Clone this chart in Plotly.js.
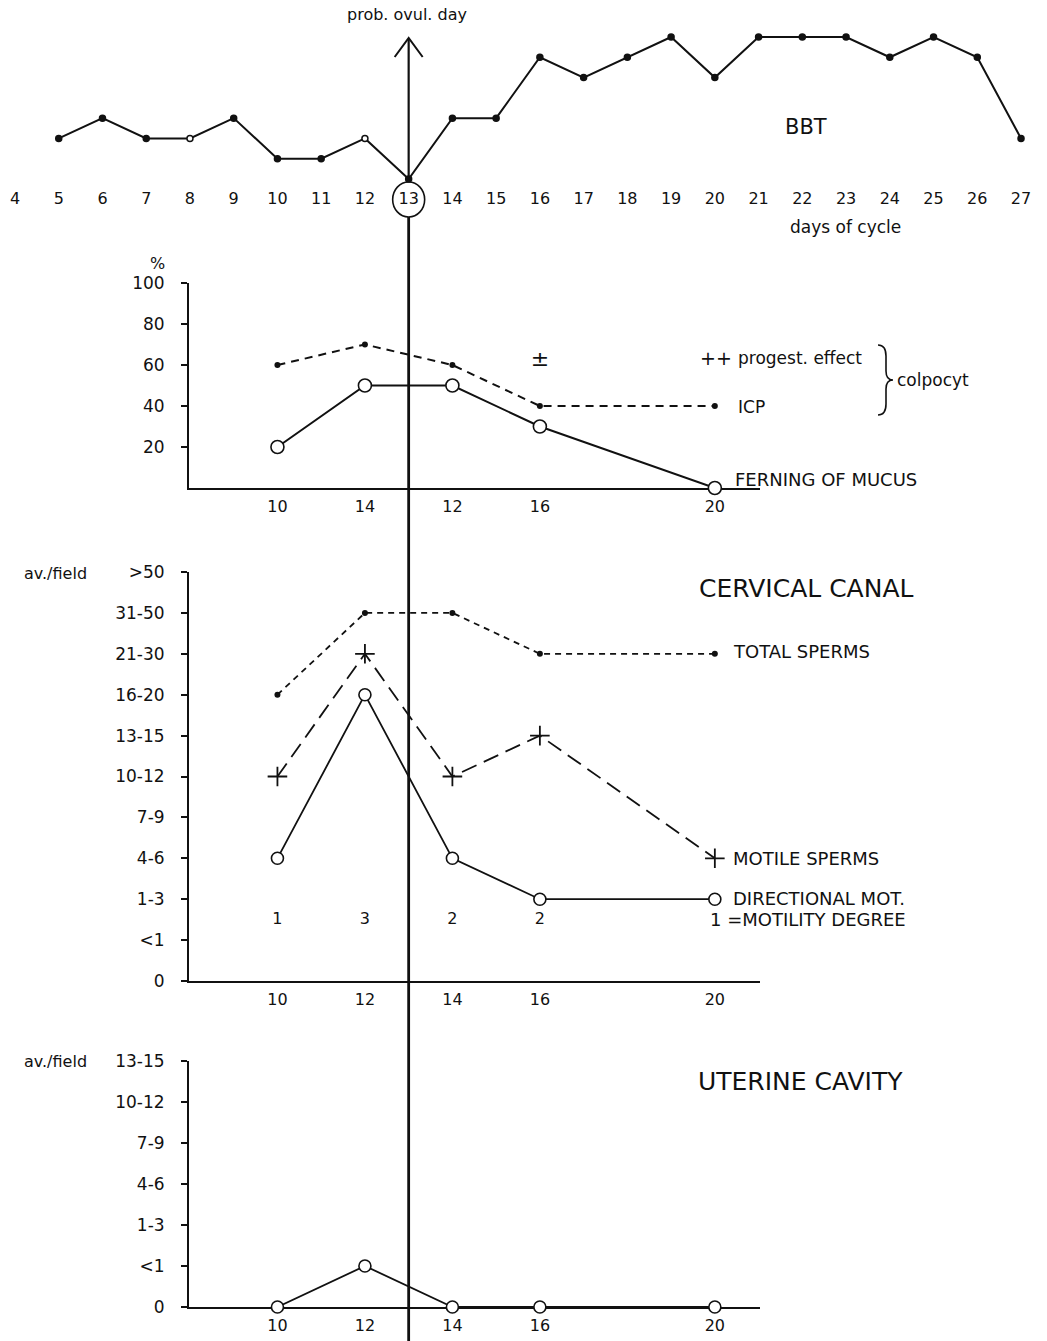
<!DOCTYPE html>
<html>
<head>
<meta charset="utf-8">
<script src="https://cdn.plot.ly/plotly-3.0.1.min.js"></script>
<style>html,body{margin:0;padding:0;background:#fff;}#chart{width:1047px;height:1341px;}</style>
</head>
<body>
<div id="chart"></div>
<script>
// ---------- data ----------
const bbtDays = [5,6,7,8,9,10,11,12,13,14,15,16,17,18,19,20,21,22,23,24,25,26,27];
const bbtTemp = [36.5,36.6,36.5,36.5,36.6,36.4,36.4,36.5,36.3,36.6,36.6,36.9,36.8,36.9,37.0,36.8,37.0,37.0,37.0,36.9,37.0,36.9,36.5];
const bbtOpen = [8,12];
const cycleTicks = [4,5,6,7,8,9,10,11,12,13,14,15,16,17,18,19,20,21,22,23,24,25,26,27];

const sampleDays = [10,12,14,16,20];
const sampleDayLabels = ['10','14','12','16','20'];   // as printed in the ferning panel
const icpPct = [60,70,60,40,40];
const ferningPct = [20,50,50,30,0];
const progestDay = [16];
const progestLevel = [62];
const pctTicks = [20,40,60,80,100];

const spermCats = ['0','&lt;1','1-3','4-6','7-9','10-12','13-15','16-20','21-30','31-50','&gt;50'];
const totalSperms = [7,9,9,8,8];
const motileSperms = [5,8,5,6,3];
const directionalMot = [3,7,3,2,2];
const motilityDays = [10,12,14,16];
const motilityDegree = ['1','3','2','2'];

const uterineCats = ['0','&lt;1','1-3','4-6','7-9','10-12','13-15'];
const uterineSperms = [0,1,0,0,0];

// ---------- geometry helpers ----------
const W = 1047, H = 1341;
const PX_PER_DAY = 43.74, DAY4_PX = 15;
const d = px => 4 + (px - DAY4_PX) / PX_PER_DAY;
const px = x => x / W;
const py = y => 1 - y / H;
const FONT = 'DejaVu Sans, Liberation Sans, sans-serif';
const black = '#111';

const traces = [
  {x: bbtDays, y: bbtTemp, xaxis:'x', yaxis:'y', mode:'lines+markers', cliponaxis:false,
   line:{color:black, width:2},
   marker:{size:6, color: bbtDays.map(v => bbtOpen.includes(v) ? 'white' : black),
           line:{color:black, width:1.5}}},
  {x: sampleDays, y: icpPct, xaxis:'x2', yaxis:'y2', mode:'lines+markers', cliponaxis:false,
   line:{color:black, width:2, dash:'8px,6px'}, marker:{size:6, color:black}},
  {x: sampleDays, y: ferningPct, xaxis:'x2', yaxis:'y2', mode:'lines+markers', cliponaxis:false,
   line:{color:black, width:2}, marker:{size:13, color:'white', line:{color:black, width:1.6}}},
  {x: progestDay, y: progestLevel, xaxis:'x2', yaxis:'y2', mode:'text', text:['±'], cliponaxis:false,
   textfont:{family:FONT, size:22, color:black}},
  {x: sampleDays, y: totalSperms, xaxis:'x3', yaxis:'y3', mode:'lines+markers', cliponaxis:false,
   line:{color:black, width:1.8, dash:'6px,5px'}, marker:{size:6, color:black}},
  {x: sampleDays, y: motileSperms, xaxis:'x3', yaxis:'y3', mode:'lines+markers', cliponaxis:false,
   line:{color:black, width:1.8, dash:'16px,8px'},
   marker:{symbol:'cross-thin', size:14, color:black, line:{color:black, width:1.8}}},
  {x: sampleDays, y: directionalMot, xaxis:'x3', yaxis:'y3', mode:'lines+markers', cliponaxis:false,
   line:{color:black, width:1.8}, marker:{size:12, color:'white', line:{color:black, width:1.6}}},
  {x: motilityDays, y: motilityDays.map(() => 1.5), xaxis:'x3', yaxis:'y3', mode:'text', cliponaxis:false,
   text: motilityDegree, textfont:{family:FONT, size:16, color:black}},
  {x: sampleDays, y: uterineSperms, xaxis:'x4', yaxis:'y4', mode:'lines+markers', cliponaxis:false,
   line:{color:black, width:1.8}, marker:{size:12, color:'white', line:{color:black, width:1.6}}}
];

const tickFont = {family:FONT, size:16, color:black};
const yTickFont = {family:FONT, size:17, color:black};
const lowerX = {range:[d(189), d(760)], domain:[px(189), px(760)], showline:true, linewidth:2, linecolor:black,
  ticks:'', tickvals: sampleDays, tickfont: tickFont, showgrid:false, zeroline:false, layer:'below traces',
  ticklabelstandoff: 3, fixedrange:true};
const leftY = (dom, rng, vals, text) => ({domain:dom, range:rng, showline:true, linewidth:2, linecolor:black,
  ticks:'outside', ticklen:6, tickwidth:2, tickcolor:black, tickvals:vals, ticktext:text, tickfont:yTickFont,
  showgrid:false, zeroline:false, ticklabelstandoff:13, layer:'below traces', fixedrange:true});

const layout = {
  width: W, height: H, autosize:false, margin:{l:0,r:0,t:0,b:0},
  paper_bgcolor:'white', plot_bgcolor:'rgba(0,0,0,0)', showlegend:false,
  font:{family:FONT, color:black},
  xaxis:{domain:[0,1], range:[d(0), d(W)], anchor:'y', tickvals:cycleTicks, ticks:'', showline:false,
         showgrid:false, zeroline:false, tickfont:tickFont, ticklabelstandoff:1, fixedrange:true},
  yaxis:{domain:[py(186), py(30)], range:[36.3 - 7/203, 37.0 + 7/203], visible:false, fixedrange:true},
  xaxis2: Object.assign({}, lowerX, {anchor:'y2', ticktext: sampleDayLabels}),
  yaxis2: Object.assign(leftY([py(488), py(283)], [0,100], pctTicks, pctTicks.map(String)), {anchor:'x2'}),
  xaxis3: Object.assign({}, lowerX, {anchor:'y3'}),
  yaxis3: Object.assign(leftY([py(981), py(572)], [0,10], spermCats.map((c,i)=>i), spermCats), {anchor:'x3'}),
  xaxis4: Object.assign({}, lowerX, {anchor:'y4'}),
  yaxis4: Object.assign(leftY([py(1307), py(1061)], [0,6], uterineCats.map((c,i)=>i), uterineCats), {anchor:'x4'}),
  shapes: [
    {type:'line', xref:'x', yref:'paper', x0:13, x1:13, y0:py(181), y1:py(39), line:{color:black, width:2.2}},
    {type:'line', xref:'x', yref:'paper', x0:13, x1:13, y0:0, y1:py(217), line:{color:black, width:2.8}},
    {type:'path', xref:'x', yref:'paper',
     path:`M ${13 - 14/PX_PER_DAY} ${py(57)} L 13 ${py(38)} L ${13 + 14/PX_PER_DAY} ${py(57)}`,
     line:{color:black, width:2}},
    {type:'circle', xref:'x', yref:'paper', x0: 13 - 16/PX_PER_DAY, x1: 13 + 16/PX_PER_DAY,
     y0: py(217), y1: py(182), line:{color:black, width:1.6}},
    {type:'path', xref:'paper', yref:'paper',
     path:`M ${px(878)} ${py(345)} Q ${px(886)} ${py(345)} ${px(886)} ${py(356)} L ${px(886)} ${py(371)} Q ${px(886)} ${py(380)} ${px(893)} ${py(380)} Q ${px(886)} ${py(380)} ${px(886)} ${py(389)} L ${px(886)} ${py(404)} Q ${px(886)} ${py(415)} ${px(878)} ${py(415)}`,
     line:{color:black, width:1.6}}
  ],
  annotations: []
};

function note(text, x, y, size, xanchor, extra) {
  layout.annotations.push(Object.assign({text, x:px(x), y:py(y), xref:'paper', yref:'paper', showarrow:false,
    xanchor: xanchor || 'center', yanchor:'middle', font:{family:FONT, size, color:black}}, extra || {}));
}
note('prob. ovul. day', 407, 15, 16);
note('BBT', 806, 127, 21);
note('days of cycle', 845, 227, 17);
note('%', 157, 263, 16);
note('++', 716, 358, 19);
note('progest. effect', 736, 358, 17, 'left');
note('ICP', 736, 407, 17, 'left');
note('colpocyt', 895, 380, 17, 'left');
note('FERNING OF MUCUS', 733, 479, 18, 'left');
note('av./field', 55, 573, 16);
note('CERVICAL CANAL', 806, 588, 25);
note('TOTAL SPERMS', 731, 651, 18, 'left');
note('MOTILE SPERMS', 731, 858, 18, 'left');
note('DIRECTIONAL MOT.', 731, 898, 18, 'left');
note('1 =MOTILITY DEGREE', 708, 919, 18, 'left');
note('av./field', 55, 1061, 16);
note('UTERINE CAVITY', 800, 1081, 25);

Plotly.newPlot('chart', traces, layout, {staticPlot:true, displayModeBar:false});
</script>
</body>
</html>
